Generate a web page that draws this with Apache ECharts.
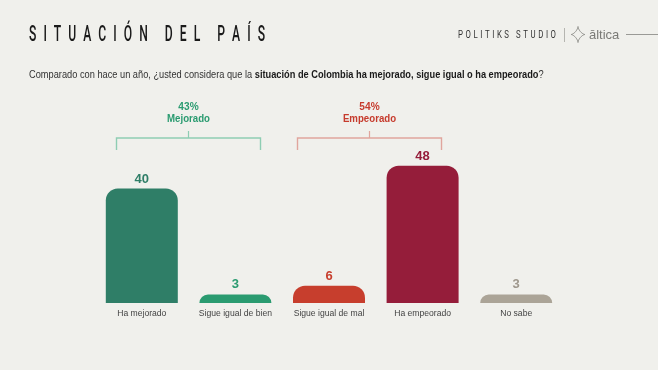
<!DOCTYPE html>
<html><head><meta charset="utf-8">
<script src="https://cdn.jsdelivr.net/npm/echarts@6/dist/echarts.min.js"></script>
<style>html,body{margin:0;padding:0;background:#f0f0ec}#c{width:658px;height:370px}</style>
</head><body><div id="c"></div>
<script>
const categories = ['Ha mejorado', 'Sigue igual de bien', 'Sigue igual de mal', 'Ha empeorado', 'No sabe'];
const values = [40, 3, 6, 48, 3];
const barColors = ['#2f7e67', '#2a9b70', '#c73e2d', '#951d3a', '#aba497'];
const labelColors = ['#2f7e67', '#2a9b70', '#c73e2d', '#951d3a', '#9e978c'];
const groupPct = ['43%', '54%'];
const groupNames = ['Mejorado', 'Empeorado'];
const groupColors = ['#2a9b70', '#c63b2d'];
const bracketColors = ['#8ecdb3', '#e0a59d'];
const titleText = 'SITUACIÓN DEL PAÍS';
const brandText = 'POLITIKS STUDIO';

const SANS = '"Liberation Sans", Arial, sans-serif';

function spacedText(str, x0, x1, yMid, fontSize, fontWeight, family, sx, color) {
  const ctx = document.createElement('canvas').getContext('2d');
  const font = fontWeight + ' ' + fontSize + 'px ' + family;
  ctx.font = font;
  const chars = Array.from(str);
  const w = chars.map(c => ctx.measureText(c).width * sx);
  const total = w.reduce((a, b) => a + b, 0);
  const gap = (x1 - x0 - total) / (chars.length - 1);
  let x = x0;
  const out = [];
  chars.forEach((c, i) => {
    if (c !== ' ') {
      out.push({
        type: 'text', x: x, y: yMid, scaleX: sx, silent: true,
        style: { text: c, font: font, fill: color, textAlign: 'left', textVerticalAlign: 'middle' }
      });
    }
    x += w[i] + gap;
  });
  return out;
}

const chart = echarts.init(document.getElementById('c'), null, { renderer: 'canvas' });

const brackets = [
  { x0: 116.5, x1: 260.5, xm: 188.5 },
  { x0: 297.5, x1: 441.5, xm: 369.5 }
];

const starPts = [];
for (let k = 0; k < 64; k++) {
  const t = k / 64 * Math.PI * 2;
  const c = Math.cos(t), s = Math.sin(t);
  starPts.push([7 * c * c * c, 8 * s * s * s]);
}

const graphics = [];
graphics.push(...spacedText(titleText, 29, 265, 35, 22.5, 500, 'Roboto', 0.54, '#1a1a1a'));
graphics.push(...spacedText(brandText, 458, 556, 35, 11.5, 400, 'Roboto', 0.68, '#333333'));
graphics.push({ type: 'line', shape: { x1: 564.5, y1: 28, x2: 564.5, y2: 42 }, style: { stroke: '#b5b5b0', lineWidth: 1 } });
graphics.push({
  type: 'polygon', x: 578, y: 34.5,
  shape: { points: starPts },
  style: { fill: 'none', stroke: '#8a8a86', lineWidth: 0.9 }
});
graphics.push({ type: 'text', x: 589, y: 35, style: { text: 'āltica', font: '400 13px ' + SANS, fill: '#7a7a76', textVerticalAlign: 'middle' } });
graphics.push({ type: 'line', shape: { x1: 626, y1: 34.5, x2: 658, y2: 34.5 }, style: { stroke: '#9a9a96', lineWidth: 1 } });

graphics.push({
  type: 'text', x: 29, y: 75, scaleX: 0.925,
  style: {
    text: '{a|Comparado con hace un año, ¿usted considera que la }{b|situación de Colombia ha mejorado, sigue igual o ha empeorado}{a|?}',
    textVerticalAlign: 'middle',
    rich: {
      a: { fontSize: 10, fontFamily: SANS, fill: '#333333', color: '#333333' },
      b: { fontSize: 10, fontFamily: SANS, fontWeight: 'bold', fill: '#1a1a1a', color: '#1a1a1a' }
    }
  }
});

brackets.forEach((b, i) => {
  const c = bracketColors[i];
  graphics.push({
    type: 'polyline',
    shape: { points: [[b.x0, 150], [b.x0, 138], [b.x1, 138], [b.x1, 150]] },
    style: { stroke: c, lineWidth: 1.4, fill: 'none' }
  });
  graphics.push({ type: 'line', shape: { x1: b.xm, y1: 131, x2: b.xm, y2: 138 }, style: { stroke: c, lineWidth: 1.2 } });
  graphics.push({ type: 'text', x: b.xm, y: 107, scaleX: 0.92, style: { text: groupPct[i], font: 'bold 11px ' + SANS, fill: groupColors[i], textAlign: 'center', textVerticalAlign: 'middle' } });
  graphics.push({ type: 'text', x: b.xm, y: 119.5, scaleX: 0.92, style: { text: groupNames[i], font: 'bold 10.5px ' + SANS, fill: groupColors[i], textAlign: 'center', textVerticalAlign: 'middle' } });
});

chart.setOption({
  backgroundColor: '#f0f0ec',
  animation: false,
  grid: { left: 95, right: 95, top: 160, bottom: 67, containLabel: false },
  xAxis: {
    type: 'category', data: categories,
    axisLine: { show: false }, axisTick: { show: false },
    axisLabel: { color: '#444444', fontSize: 8.6, fontFamily: SANS, margin: 6, interval: 0 }
  },
  yAxis: { type: 'value', min: 0, max: 50, show: false, splitLine: { show: false } },
  series: [{
    type: 'bar', barWidth: 72,
    data: values.map((v, i) => ({
      value: v,
      itemStyle: { color: barColors[i], borderRadius: [12, 12, 0, 0] },
      label: { color: labelColors[i] }
    })),
    label: { show: true, position: 'top', distance: 3, fontSize: 13, fontWeight: 'bold', fontFamily: SANS }
  }],
  graphic: graphics
});
</script>
</body></html>
